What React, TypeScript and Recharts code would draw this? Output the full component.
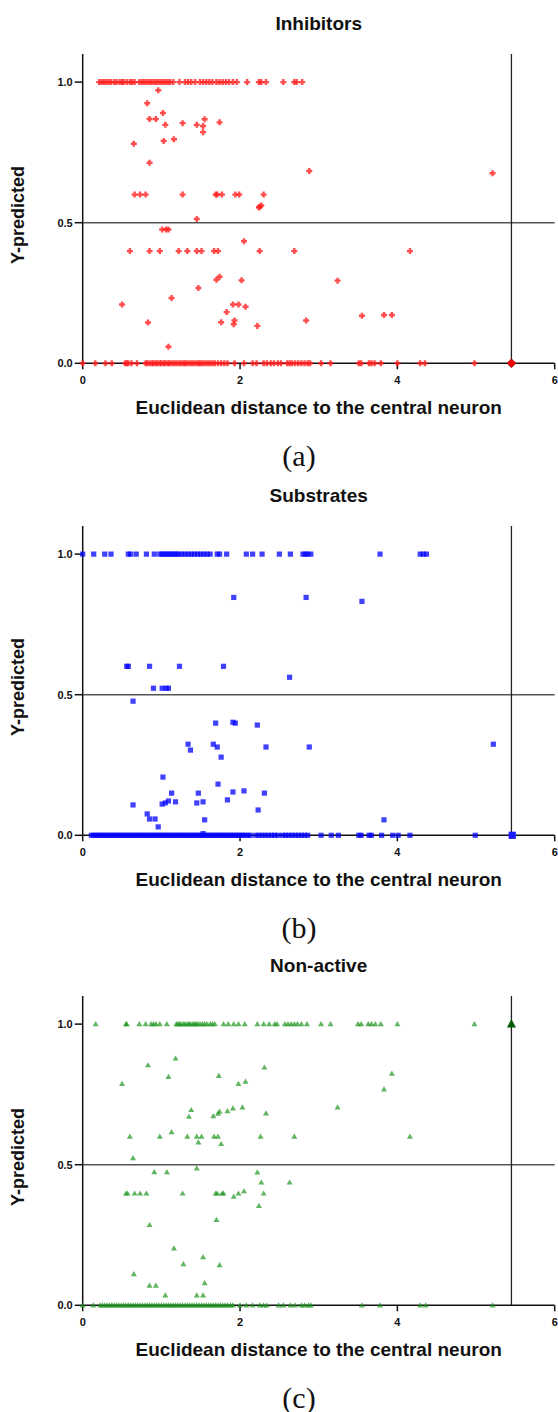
import { ScatterChart, Scatter, XAxis, YAxis, ReferenceLine } from 'recharts'

// x positions of the points sitting on Y-predicted = 1.0 and 0.0, plus the loose points
const inhTopX = [0.21, 0.24, 0.27, 0.3, 0.33, 0.36, 0.4, 0.43, 0.47, 0.5, 0.52, 0.56, 0.6, 0.63, 0.66, 0.72, 0.75, 0.78, 0.81, 0.84, 0.87, 0.9, 0.93, 0.96, 0.99, 1.02, 1.05, 1.08, 1.11, 1.15, 1.23, 1.3, 1.34, 1.38, 1.43, 1.49, 1.53, 1.57, 1.61, 1.65, 1.7, 1.74, 1.78, 1.82, 1.86, 1.91, 1.96, 2.09, 2.24, 2.27, 2.33, 2.55, 2.69, 2.72, 2.79]
const inhZeroX = [0, 0.16, 0.29, 0.37, 0.54, 0.56, 0.58, 0.62, 0.69, 0.8, 0.82, 0.85, 0.88, 0.9, 0.93, 0.95, 0.98, 1.0, 1.03, 1.05, 1.08, 1.1, 1.13, 1.16, 1.19, 1.22, 1.25, 1.28, 1.3, 1.33, 1.36, 1.39, 1.42, 1.45, 1.48, 1.5, 1.53, 1.56, 1.59, 1.62, 1.65, 1.68, 1.72, 1.76, 1.8, 1.84, 1.93, 2.05, 2.16, 2.21, 2.3, 2.34, 2.39, 2.43, 2.48, 2.52, 2.6, 2.63, 2.66, 2.7, 2.74, 2.78, 2.82, 2.86, 2.89, 3.03, 3.15, 3.51, 3.54, 3.64, 3.67, 3.71, 3.79, 4.0, 4.29, 4.35, 4.98]
const inhOther: [number, number][] = [[0.96, 0.971], [0.82, 0.925], [1.02, 0.89], [0.85, 0.869], [0.93, 0.869], [1.05, 0.848], [1.27, 0.854], [1.45, 0.848], [1.53, 0.844], [1.55, 0.868], [1.53, 0.822], [1.74, 0.857], [1.03, 0.791], [1.16, 0.797], [0.65, 0.781], [0.85, 0.713], [2.88, 0.684], [5.21, 0.676], [0.66, 0.6], [0.73, 0.6], [0.8, 0.6], [1.27, 0.6], [1.69, 0.6], [1.71, 0.6], [1.77, 0.6], [1.94, 0.6], [1.99, 0.6], [2.3, 0.6], [2.24, 0.554], [2.25, 0.557], [2.27, 0.561], [1.45, 0.513], [1.01, 0.476], [1.06, 0.476], [1.09, 0.476], [0.6, 0.399], [0.85, 0.399], [0.98, 0.399], [1.22, 0.399], [1.33, 0.399], [1.45, 0.399], [1.51, 0.399], [1.67, 0.399], [1.72, 0.399], [2.25, 0.399], [2.69, 0.399], [4.16, 0.399], [2.05, 0.434], [1.7, 0.297], [1.74, 0.308], [2.02, 0.295], [1.47, 0.268], [1.13, 0.232], [0.5, 0.209], [1.91, 0.209], [1.98, 0.209], [2.07, 0.201], [1.83, 0.182], [0.83, 0.145], [1.76, 0.146], [1.92, 0.139], [1.93, 0.152], [2.22, 0.133], [2.84, 0.152], [1.09, 0.059], [3.24, 0.294], [3.55, 0.169], [3.83, 0.172], [3.93, 0.172]]
const inhCenter: [number, number] = [5.45, 0]

const subTopX = [0.0, 0.14, 0.28, 0.36, 0.58, 0.61, 0.68, 0.81, 0.91, 0.98, 1.01, 1.04, 1.07, 1.1, 1.13, 1.16, 1.19, 1.22, 1.26, 1.3, 1.34, 1.38, 1.42, 1.46, 1.5, 1.54, 1.58, 1.62, 1.71, 1.74, 1.83, 2.08, 2.16, 2.28, 2.5, 2.64, 2.8, 2.83, 2.86, 2.9, 3.78, 4.29, 4.33, 4.37]
const subZeroX = [0.11, 0.14, 0.17, 0.2, 0.23, 0.26, 0.29, 0.32, 0.35, 0.38, 0.41, 0.44, 0.47, 0.5, 0.53, 0.56, 0.59, 0.62, 0.65, 0.68, 0.71, 0.74, 0.77, 0.8, 0.83, 0.86, 0.89, 0.92, 0.95, 0.98, 1.01, 1.04, 1.07, 1.1, 1.13, 1.16, 1.19, 1.22, 1.25, 1.28, 1.31, 1.34, 1.37, 1.4, 1.43, 1.46, 1.49, 1.52, 1.55, 1.58, 1.61, 1.64, 1.67, 1.7, 1.73, 1.76, 1.79, 1.82, 1.85, 1.88, 1.91, 1.94, 1.97, 2.0, 2.03, 2.06, 2.1, 2.13, 2.2, 2.24, 2.28, 2.32, 2.36, 2.4, 2.44, 2.48, 2.54, 2.58, 2.62, 2.66, 2.7, 2.74, 2.78, 2.82, 2.86, 3.03, 3.16, 3.25, 3.51, 3.54, 3.64, 3.67, 3.8, 3.94, 4.01, 4.16, 4.99]
const subOther: [number, number][] = [[1.92, 0.846], [2.84, 0.846], [3.55, 0.832], [0.56, 0.601], [0.58, 0.601], [0.85, 0.601], [1.23, 0.601], [1.79, 0.601], [2.63, 0.562], [0.9, 0.523], [1.01, 0.523], [1.06, 0.523], [1.09, 0.523], [0.64, 0.477], [1.69, 0.399], [1.91, 0.402], [1.94, 0.399], [2.22, 0.392], [1.34, 0.324], [1.37, 0.303], [1.66, 0.324], [1.71, 0.314], [2.33, 0.314], [2.88, 0.314], [5.22, 0.324], [1.76, 0.278], [1.02, 0.207], [1.72, 0.182], [1.13, 0.15], [1.47, 0.15], [1.91, 0.154], [2.05, 0.158], [2.31, 0.15], [1.09, 0.122], [1.18, 0.119], [1.01, 0.111], [1.05, 0.115], [1.45, 0.115], [1.53, 0.119], [1.84, 0.126], [0.64, 0.108], [0.82, 0.076], [0.85, 0.058], [0.92, 0.058], [2.23, 0.09], [1.55, 0.055], [0.96, 0.03], [1.53, 0.006], [3.83, 0.055]]
const subCenter: [number, number] = [5.46, 0]

const nonTopX = [0.165, 0.55, 0.56, 0.72, 0.8, 0.87, 0.9, 0.93, 0.98, 1.07, 1.19, 1.21, 1.23, 1.25, 1.28, 1.3, 1.33, 1.35, 1.37, 1.4, 1.42, 1.44, 1.46, 1.49, 1.52, 1.55, 1.58, 1.62, 1.65, 1.68, 1.79, 1.85, 1.92, 1.98, 2.06, 2.22, 2.3, 2.37, 2.44, 2.47, 2.57, 2.61, 2.65, 2.69, 2.73, 2.78, 2.85, 3.03, 3.15, 3.5, 3.54, 3.63, 3.67, 3.72, 3.79, 4.0, 4.98]
const nonZeroX = [0, 0.135, 0.22, 0.25, 0.28, 0.31, 0.34, 0.37, 0.4, 0.43, 0.46, 0.49, 0.52, 0.55, 0.58, 0.61, 0.64, 0.67, 0.7, 0.73, 0.76, 0.79, 0.82, 0.85, 0.88, 0.91, 0.94, 0.97, 1.0, 1.03, 1.06, 1.09, 1.12, 1.15, 1.18, 1.21, 1.24, 1.27, 1.3, 1.33, 1.36, 1.39, 1.42, 1.45, 1.48, 1.51, 1.54, 1.57, 1.6, 1.63, 1.66, 1.69, 1.72, 1.75, 1.78, 1.81, 1.84, 1.88, 1.91, 2.0, 2.08, 2.16, 2.25, 2.3, 2.34, 2.49, 2.55, 2.64, 2.7, 2.78, 2.82, 2.87, 2.9, 3.55, 3.78, 4.29, 4.36, 5.21]
const nonOther: [number, number][] = [[1.18, 0.878], [0.83, 0.854], [2.31, 0.846], [1.09, 0.813], [1.73, 0.816], [0.5, 0.788], [1.98, 0.788], [2.07, 0.796], [1.38, 0.695], [1.35, 0.671], [1.66, 0.673], [1.72, 0.682], [1.74, 0.689], [1.84, 0.691], [1.91, 0.701], [2.03, 0.704], [2.33, 0.683], [0.6, 0.6], [0.98, 0.6], [1.33, 0.6], [1.45, 0.6], [1.51, 0.6], [1.67, 0.6], [1.72, 0.6], [2.26, 0.6], [2.69, 0.6], [1.13, 0.616], [1.47, 0.58], [1.76, 0.574], [0.64, 0.524], [3.93, 0.824], [3.83, 0.768], [3.24, 0.704], [4.16, 0.6], [2.63, 0.437], [0.91, 0.474], [1.07, 0.474], [1.45, 0.487], [2.22, 0.473], [2.27, 0.437], [0.55, 0.398], [0.57, 0.398], [0.66, 0.398], [0.73, 0.398], [0.81, 0.398], [1.27, 0.398], [1.69, 0.398], [1.71, 0.398], [1.77, 0.398], [1.79, 0.398], [1.92, 0.387], [1.98, 0.398], [2.05, 0.406], [2.3, 0.398], [2.24, 0.354], [1.7, 0.304], [0.85, 0.286], [1.16, 0.203], [1.53, 0.172], [1.28, 0.147], [1.74, 0.143], [0.65, 0.111], [0.85, 0.07], [0.93, 0.07], [1.55, 0.079], [1.05, 0.036], [1.45, 0.036], [1.53, 0.036]]
const nonCenter: [number, number] = [5.45, 1.0]

const xTicks = [0, 2, 4, 6]
const yTicks = [0, 0.5, 1.0]
const cutoffX = 5.45
const cutoffY = 0.5

const sans = '"Liberation Sans", Arial, Helvetica, sans-serif'

const redMark = (p: any) => (
  <path
    d={`M${p.cx - 1.2},${p.cy - 3}h2.4v1.8h1.8v2.4h-1.8v1.8h-2.4v-1.8h-1.8v-2.4h1.8z`}
    fill="#ff1f1f"
    fillOpacity={0.8}
  />
)
const redBig = (p: any) => (
  <path d={`M${p.cx},${p.cy - 4.5}L${p.cx + 4.5},${p.cy}L${p.cx},${p.cy + 4.5}L${p.cx - 4.5},${p.cy}Z`} fill="#ee0000" stroke="#800000" strokeWidth={0.6} />
)
const blueMark = (p: any) => <rect x={p.cx - 2.6} y={p.cy - 2.6} width={5.2} height={5.2} fill="#0000ff" fillOpacity={0.75} />
const blueBig = (p: any) => <rect x={p.cx - 3.6} y={p.cy - 3.6} width={7.2} height={7.2} fill="#1a1aff" />
const greenMark = (p: any) => (
  <path d={`M${p.cx},${p.cy - 3}L${p.cx + 3},${p.cy + 2.2}L${p.cx - 3},${p.cy + 2.2}Z`} fill="#1c961c" fillOpacity={0.7} />
)
const greenBig = (p: any) => (
  <path d={`M${p.cx},${p.cy - 5}L${p.cx + 4.5},${p.cy + 3.5}L${p.cx - 4.5},${p.cy + 3.5}Z`} fill="#005c00" />
)

interface PanelProps {
  top: number
  title: string
  caption: string
  topX: number[]
  zeroX: number[]
  other: [number, number][]
  center: [number, number]
  mark: (p: any) => JSX.Element
  big: (p: any) => JSX.Element
}

function Panel({ top, title, caption, topX, zeroX, other, center, mark, big }: PanelProps) {
  const points = [
    ...zeroX.map((x) => ({ x, y: 0 })),
    ...other.map(([x, y]) => ({ x, y })),
    ...topX.map((x) => ({ x, y: 1 })),
  ]
  const centerData = [{ x: center[0], y: center[1] }]
  const tickStyle = { fill: '#111', fontSize: 11, fontWeight: 700, fontFamily: sans }

  return (
    <div style={{ position: 'absolute', left: 0, top, width: 558, height: 470 }}>
      <div
        style={{
          position: 'absolute', left: 318.7, top: 24, transform: 'translate(-50%, -50%)',
          fontFamily: sans, fontWeight: 700, fontSize: 19, whiteSpace: 'nowrap', color: '#111',
        }}
      >
        {title}
      </div>
      <div
        style={{
          position: 'absolute', left: 18, top: 215, transform: 'translate(-50%, -50%) rotate(-90deg)',
          fontFamily: sans, fontWeight: 700, fontSize: 18, whiteSpace: 'nowrap', color: '#111',
        }}
      >
        Y-predicted
      </div>
      <div style={{ position: 'absolute', left: 0, top: 0 }}>
        <ScatterChart width={558} height={400} margin={{ top: 54, right: 3.3, bottom: 6.7, left: 0 }}>
          <XAxis
            type="number"
            dataKey="x"
            domain={[0, 6]}
            ticks={xTicks}
            height={30}
            tick={tickStyle}
            tickSize={6}
            tickMargin={7}
            axisLine={{ stroke: '#111', strokeWidth: 1.5 }}
            tickLine={{ stroke: '#111', strokeWidth: 1.5 }}
          />
          <YAxis
            type="number"
            dataKey="y"
            domain={[0, 1.1]}
            ticks={yTicks}
            width={82.7}
            tick={tickStyle}
            tickSize={8}
            tickMargin={2}
            tickFormatter={(v: number) => v.toFixed(1)}
            axisLine={{ stroke: '#111', strokeWidth: 1.5 }}
            tickLine={{ stroke: '#111', strokeWidth: 1.5 }}
          />
          <ReferenceLine y={cutoffY} stroke="#555" strokeWidth={1.5} />
          <ReferenceLine x={cutoffX} stroke="#222" strokeWidth={1.3} />
          <Scatter data={points} shape={mark} isAnimationActive={false} />
          <Scatter data={centerData} shape={big} isAnimationActive={false} />
        </ScatterChart>
      </div>
      <div
        style={{
          position: 'absolute', left: 318.7, top: 408, transform: 'translate(-50%, -50%)',
          fontFamily: sans, fontWeight: 700, fontSize: 19, whiteSpace: 'nowrap', color: '#111',
        }}
      >
        Euclidean distance to the central neuron
      </div>
      <div
        style={{
          position: 'absolute', left: 299, top: 456, transform: 'translate(-50%, -50%)',
          fontFamily: '"Liberation Serif", "DejaVu Serif", serif', fontSize: 30, whiteSpace: 'nowrap', color: '#111',
        }}
      >
        {caption}
      </div>
    </div>
  )
}

export default function App() {
  return (
    <div style={{ position: 'absolute', left: 0, top: 0, width: 558, height: 1412, background: '#fff' }}>
      <Panel top={0} title="Inhibitors" caption="(a)" topX={inhTopX} zeroX={inhZeroX} other={inhOther} center={inhCenter} mark={redMark} big={redBig} />
      <Panel top={472.4} title="Substrates" caption="(b)" topX={subTopX} zeroX={subZeroX} other={subOther} center={subCenter} mark={blueMark} big={blueBig} />
      <Panel top={942.4} title="Non-active" caption="(c)" topX={nonTopX} zeroX={nonZeroX} other={nonOther} center={nonCenter} mark={greenMark} big={greenBig} />
    </div>
  )
}
